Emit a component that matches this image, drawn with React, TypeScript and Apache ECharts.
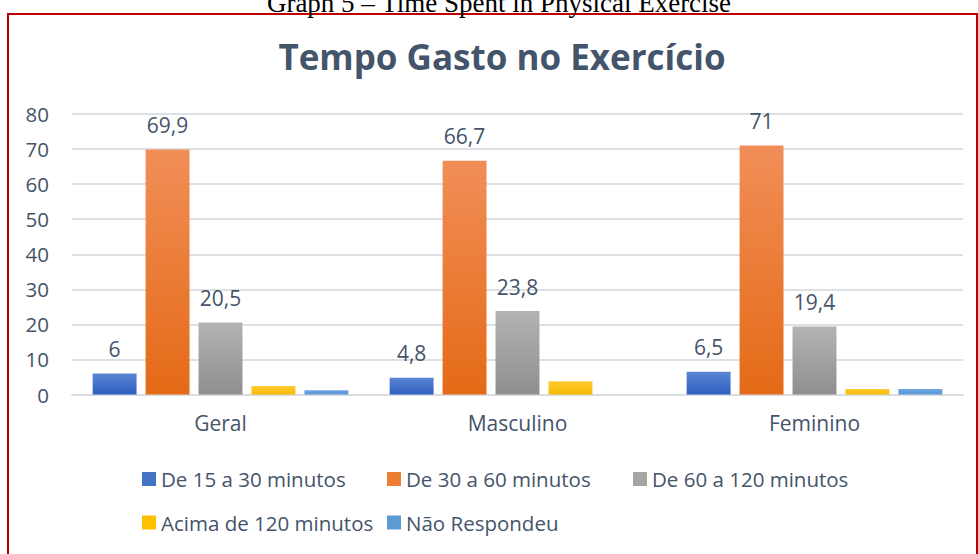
import React, { useEffect, useRef } from "react";
import * as echarts from "echarts";

const categories = ["Geral", "Masculino", "Feminino"];
const seriesNames = [
  "De 15 a 30 minutos",
  "De 30 a 60 minutos",
  "De 60 a 120 minutos",
  "Acima de 120 minutos",
  "Não Respondeu",
];
const de15a30 = [6, 4.8, 6.5];
const de30a60 = [69.9, 66.7, 71];
const de60a120 = [20.5, 23.8, 19.4];
const acima120 = [2.4, 3.8, 1.6];
const naoRespondeu = [1.2, 0, 1.6];
const yTicks = { min: 0, max: 80, interval: 10 };
const chartTitle = "Tempo Gasto no Exercício";
const captionText = "Graph 5 – Time Spent in Physical Exercise";

const FONT = "'Open Sans', 'Noto Sans', sans-serif";
const TEXT_COLOR = "#44546A";

const grad = (top: string, bottom: string) =>
  new echarts.graphic.LinearGradient(0, 0, 0, 1, [
    { offset: 0, color: top },
    { offset: 1, color: bottom },
  ]);

export default function App() {
  const ref = useRef<HTMLDivElement>(null);
  useEffect(() => {
    if (!ref.current) return;
    const chart = echarts.init(ref.current, null, { renderer: "svg" });
    const colors = [
      grad("#5B86D4", "#2E5EBE"),
      grad("#F18E58", "#E46A16"),
      grad("#B3B3B3", "#8F8F8F"),
      grad("#FFCB33", "#F5BA00"),
      grad("#70A7E2", "#5895D2"),
    ];
    const iconColors = ["#4472C4", "#ED7D31", "#A5A5A5", "#FFC000", "#5B9BD5"];
    const dataSets = [de15a30, de30a60, de60a120, acima120, naoRespondeu];
    const legendPos = [
      { left: 142, top: 468.5 },
      { left: 387, top: 468.5 },
      { left: 633, top: 468.5 },
      { left: 142, top: 512 },
      { left: 387, top: 512 },
    ];
    const fmt = (p: any) => String(p.value).replace(".", ",");
    chart.setOption({
      animation: false,
      backgroundColor: "#ffffff",
      textStyle: { fontFamily: FONT },
      title: {
        text: chartTitle,
        left: 497,
        textAlign: "center",
        top: 33.5,
        textStyle: {
          fontFamily: FONT,
          fontSize: 35,
          fontWeight: "bold",
          color: TEXT_COLOR,
        },
      },
      graphic: [
        {
          type: "rect",
          shape: { x: 8, y: 14, width: 969, height: 560 },
          style: { fill: "none", stroke: "#C00000", lineWidth: 2 },
          silent: true,
        },
        {
          type: "text",
          x: 499,
          y: 16,
          style: {
            text: captionText,
            font: "27px 'Liberation Serif', 'Times New Roman', serif",
            fill: "#000000",
            textAlign: "center",
            textVerticalAlign: "bottom",
          },
          silent: true,
        },
      ],
      legend: seriesNames.map((n, i) => ({
        data: [{ name: n, icon: "rect", itemStyle: { color: iconColors[i] } }],
        left: legendPos[i].left,
        top: legendPos[i].top,
        padding: 0,
        itemWidth: 14,
        itemHeight: 14,
        selectedMode: false,
        textStyle: { fontFamily: FONT, fontSize: 20.5, color: TEXT_COLOR },
      })),
      grid: { left: 72, right: 15, top: 114, bottom: 159.5 },
      xAxis: {
        type: "category",
        data: categories,
        axisLine: { lineStyle: { color: "#D9DDE3", width: 2 } },
        axisTick: { show: false },
        axisLabel: {
          fontFamily: FONT,
          fontSize: 21,
          color: TEXT_COLOR,
          margin: 18,
        },
      },
      yAxis: {
        type: "value",
        min: yTicks.min,
        max: yTicks.max,
        interval: yTicks.interval,
        axisLine: { show: false },
        axisTick: { show: false },
        splitLine: { lineStyle: { color: "#DDE1E6", width: 2 } },
        axisLabel: {
          fontFamily: FONT,
          fontSize: 20.5,
          color: TEXT_COLOR,
          margin: 23,
        },
      },
      series: seriesNames.map((n, i) => ({
        name: n,
        type: "bar",
        data: dataSets[i],
        barGap: "20.5%",
        barCategoryGap: "13.9%",
        itemStyle: { color: colors[i] },
        label: {
          show: i < 3,
          position: "top",
          distance: 14,
          formatter: fmt,
          fontFamily: FONT,
          fontSize: 21,
          color: TEXT_COLOR,
        },
      })),
    });
    return () => chart.dispose();
  }, []);
  return (
    <div
      ref={ref}
      style={{ position: "fixed", left: 0, top: 0, width: 978, height: 554 }}
    />
  );
}
